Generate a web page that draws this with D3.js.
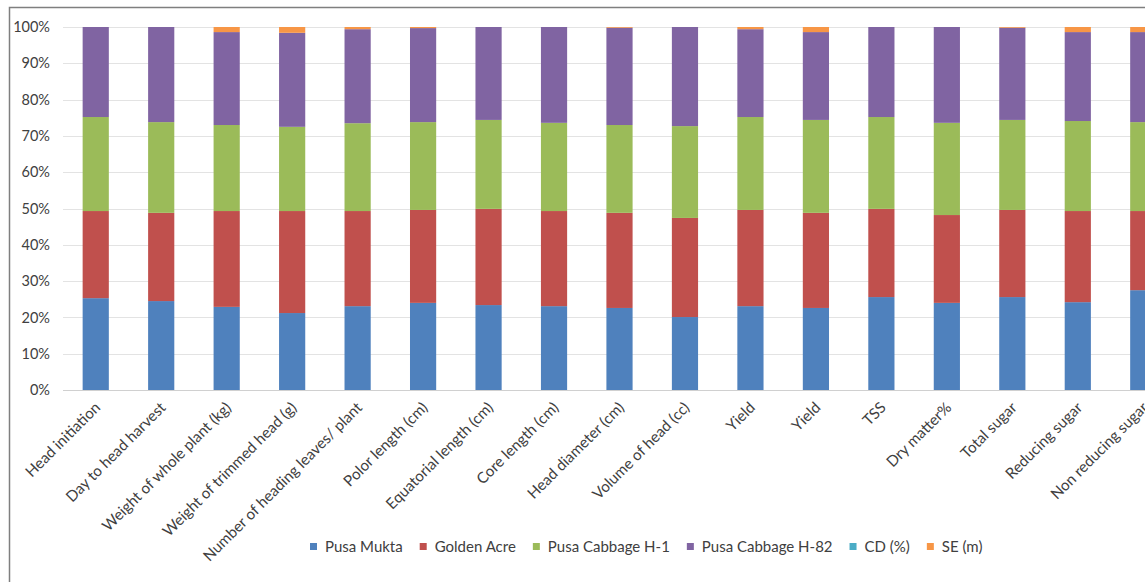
<!DOCTYPE html>
<html>
<head>
<meta charset="utf-8">
<script src="https://cdn.jsdelivr.net/npm/d3@7"></script>
<style>
 body { margin: 0; background: #fff; }
 svg { display: block; font-family: Lato, "Open Sans", sans-serif; }
</style>
</head>
<body>
<svg id="chart"></svg>
<script>
const categories = ["Head initiation", "Day to head harvest", "Weight of whole plant (kg)",
 "Weight of trimmed head (g)", "Number of heading leaves/ plant", "Polor length (cm)",
 "Equatorial length (cm)", "Core length (cm)", "Head diameter (cm)", "Volume of head (cc)",
 "Yield", "Yield", "TSS", "Dry matter%", "Total sugar", "Reducing sugar", "Non reducing sugar"];

const seriesNames = ["Pusa Mukta", "Golden Acre", "Pusa Cabbage H-1", "Pusa Cabbage H-82", "CD (%)", "SE (m)"];
const colors = ["#4F81BD", "#C0504D", "#9BBB59", "#8064A2", "#4BACC6", "#F79646"];

// shares (percent of each bar)
const pusaMukta = [25.3, 24.5, 22.9, 21.2, 23.1, 24.0, 23.4, 23.1, 22.6, 20.1, 23.1, 22.6, 25.6, 24.0, 25.6, 24.2, 27.5];
const goldenAcre = [24.0, 24.3, 26.4, 28.1, 26.2, 25.6, 26.5, 26.2, 26.2, 27.3, 26.5, 26.2, 24.3, 24.2, 24.0, 25.1, 21.8];
const pusaH1 = [25.9, 25.0, 23.7, 23.2, 24.2, 24.2, 24.5, 24.3, 24.2, 25.3, 25.6, 25.6, 25.3, 25.4, 24.8, 24.8, 24.5];
const pusaH82 = [24.8, 26.2, 25.6, 25.9, 25.9, 25.9, 25.6, 26.4, 26.8, 27.3, 24.2, 24.2, 24.8, 26.4, 25.4, 24.5, 24.8];
const cd = [0, 0, 0, 0, 0, 0, 0, 0, 0, 0, 0, 0, 0, 0, 0, 0, 0];
const se = [0, 0, 1.4, 1.6, 0.6, 0.3, 0, 0, 0.2, 0, 0.6, 1.4, 0, 0, 0.2, 1.4, 1.4];

const yTicks = [0, 0.1, 0.2, 0.3, 0.4, 0.5, 0.6, 0.7, 0.8, 0.9, 1];

const width = 1145, height = 582;
const svg = d3.select("#chart").attr("width", width).attr("height", height);

// outer chart frame (right and bottom run past the picture)
svg.append("rect")
 .attr("x", 9.5).attr("y", 7.5)
 .attr("width", 1200).attr("height", 600)
 .attr("fill", "none").attr("stroke", "#7f7f7f").attr("stroke-width", 1.5);

const allSeries = [pusaMukta, goldenAcre, pusaH1, pusaH82, cd, se];
const rows = categories.map((c, i) => {
 const r = { i: i };
 seriesNames.forEach((s, j) => r[s] = allSeries[j][i]);
 return r;
});

const stack = d3.stack().keys(seriesNames).offset(d3.stackOffsetExpand);
const stacked = stack(rows);

const x = d3.scaleBand().domain(d3.range(categories.length)).range([63, 1176]).paddingInner(0.6).paddingOuter(0.3);
const y = d3.scaleLinear().domain([0, 1]).range([390, 27]);

// gridlines
svg.append("g")
 .selectAll("line")
 .data(yTicks)
 .enter()
 .append("line")
 .attr("x1", 63).attr("x2", width)
 .attr("y1", d => Math.round(y(d)) + 0.5).attr("y2", d => Math.round(y(d)) + 0.5)
 .attr("stroke", d => d === 0 ? "#d0d0d0" : "#e3e3e3").attr("stroke-width", 1);

// y axis labels
const yAxis = svg.append("g")
 .attr("transform", "translate(50,0)")
 .call(d3.axisLeft(y).tickValues(yTicks).tickFormat(d3.format(".0%")).tickSize(0).tickPadding(0));
yAxis.select(".domain").remove();
yAxis.selectAll("text").attr("font-size", 14.5).attr("fill", "#404040").attr("font-family", "Lato, sans-serif");

// bars
svg.append("g")
 .selectAll("g")
 .data(stacked)
 .enter()
 .append("g")
 .attr("fill", (d, i) => colors[i])
 .selectAll("rect")
 .data(d => d)
 .enter()
 .append("rect")
 .attr("x", d => x(d.data.i))
 .attr("width", x.bandwidth())
 .attr("y", d => y(d[1]))
 .attr("height", d => y(d[0]) - y(d[1]));

// category labels, rotated
svg.append("g")
 .selectAll("text")
 .data(categories)
 .enter()
 .append("text")
 .attr("transform", (d, i) => `translate(${x(i) + x.bandwidth() / 2 - 2},401) rotate(-45)`)
 .attr("text-anchor", "end")
 .attr("dy", "0.7em")
 .attr("font-size", 15.2)
 .attr("fill", "#404040")
 .text(d => d);

// legend
const legend = svg.append("g").attr("transform", "translate(0,547)");
let lx = 310;
seriesNames.forEach((s, i) => {
 legend.append("rect")
 .attr("x", lx).attr("y", -4).attr("width", 7).attr("height", 7)
 .attr("fill", colors[i]);
 const t = legend.append("text")
 .attr("x", lx + 15).attr("y", 0).attr("dy", "0.35em")
 .attr("font-size", 15).attr("fill", "#404040")
 .text(s);
 lx += 15 + t.node().getComputedTextLength() + 17;
});
</script>
</body>
</html>
